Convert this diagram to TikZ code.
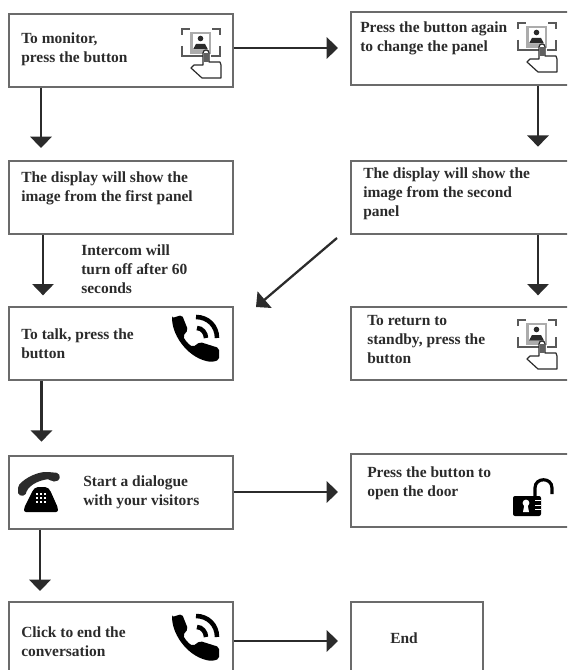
\documentclass[tikz,border=0pt]{standalone}
\usepackage{fontspec}
\setmainfont{Liberation Serif}
\usetikzlibrary{arrows.meta}
\definecolor{ink}{gray}{0.17}
\definecolor{edge}{gray}{0.42}
\tikzset{
  flowbox/.style={draw=edge,line width=1.2pt,fill=white,inner sep=0pt,anchor=north west},
  wide/.style={flowbox,minimum width=168pt,minimum height=54.75pt},
  right side/.style={flowbox,minimum width=170pt,minimum height=54.75pt},
  lbl/.style={text=ink,font=\fontsize{11.6}{14.25}\selectfont\bfseries,align=left,inner sep=0pt,anchor=base west},
  arr/.style={draw=ink,line width=1.7pt,-{Triangle[length=8.5pt,width=16pt]}},
  touch/.pic={
    \draw[gray!70!black,line width=1.1pt] (0,6)--(0,0)--(8,0) (30,0)--(38,0)--(38,6) (0,17)--(0,27)--(22,27) (29,27)--(38,27)--(38,17);
    \fill[gray!65] (8,3) rectangle (29,25);
    \fill[white] (10.5,5) rectangle (27,21);
    \fill[ink] (18.5,9.5) circle (2.8);
    \fill[ink] (11,20.5) -- (14,15) -- (23,15) -- (26,20.5) -- cycle;
    \draw[ink,line width=.9pt,fill=white,line join=round] (21,36) -- (21,24) .. controls (21,20) and (27,20) .. (27,24) -- (27,33) -- (38,33) -- (39,36) -- (39,49) -- (20,49) -- (9,39) -- (12,36) -- cycle;
    \fill[gray!75!black] (21.5,24) rectangle (26.5,33);
  },
  phone/.pic={
    \fill[black,rounded corners=1.5pt] (0,3) -- (10,0) -- (16,15) -- (11,21) .. controls (13,25) and (16,29) .. (21,32) -- (28,27) -- (47,33) -- (47,45) -- (40,47) .. controls (17,44) and (1,22) .. cycle;
    \draw[black,line width=3.4pt] (24,2) .. controls (36,2) and (45,11) .. (45,23);
    \draw[black,line width=3.4pt] (25,13) .. controls (30,13) and (34,18) .. (34,23);
  },
  oldphone/.pic={
    \fill[ink,rounded corners=1.5pt] (0,14) .. controls (8,5) and (20,0) .. (30,0) -- (41,1) -- (42,8) -- (34,10) -- (32,7) .. controls (22,8) and (14,12) .. (9,18) -- (7,24) -- (0,23) -- cycle;
    \fill[black,rounded corners=1.5pt] (15,18) -- (18,15) -- (29,15) -- (32,18) -- (40,36) -- (40,40) -- (6,40) -- (6,36) -- cycle;
    \foreach \kx in {18,22,26}{\foreach \ky in {21,25,29}{\fill[white] (\kx,\ky) rectangle +(2.4,2.4);}}
  },
  padlock/.pic={
    \draw[black,line width=2.4pt] (22,18) -- (22,8) .. controls (22,-3) and (39,-3) .. (39,8) -- (39,14);
    \fill[black,rounded corners=1.5pt] (0,16) rectangle (28,36);
    \fill[white] (13,23) circle (3.4);
    \fill[white] (11.5,24) -- (14.5,24) -- (16,32) -- (10,32) -- cycle;
    \foreach \sy in {20,24.5,29}{\fill[white] (22,\sy) rectangle +(6,1.2);}
  },
}
\begin{document}
\begin{tikzpicture}[x=0.75pt,y=-0.75pt]
\useasboundingbox (0,0) rectangle (567,670);
\clip (0,0) rectangle (567,670);
\fill[white] (0,0) rectangle (567,670);
% boxes
\node[wide] (A) at (8,13) {};
\node[right side] (B) at (350,11) {};
\node[wide] (C) at (8,160) {};
\node[right side] (D) at (350,160) {};
\node[wide] (E) at (8,306) {};
\node[right side] (F) at (350,306) {};
\node[wide] (G) at (8,455) {};
\node[right side] (H) at (350,453) {};
\node[wide] (I) at (8,601) {};
\node[flowbox,minimum width=99pt,minimum height=60pt] (J) at (350,601) {};
% labels (anchored on the last baseline)
\node[lbl] (tA) at (21,63) {To monitor,\\press the button};
\node[lbl] (tB) at (360,52) {Press the button again\\to change the panel};
\node[lbl] (tC) at (21,202) {The display will show the\\image from the first panel};
\node[lbl] (tD) at (363,217) {The display will show the\\image from the second\\panel};
\node[lbl] (tN) at (81,293) {Intercom will\\turn off after 60\\seconds};
\node[lbl] (tE) at (21,358) {To talk, press the\\button};
\node[lbl] (tF) at (367,363) {To return to\\standby, press the\\button};
\node[lbl] (tG) at (83,505) {Start a dialogue\\with your visitors};
\node[lbl] (tH) at (367,496) {Press the button to\\open the door};
\node[lbl] (tI) at (21,656) {Click to end the\\conversation};
\node[lbl] (tJ) at (390,643) {End};
% icons
\pic at (182,29) {touch};
\pic at (518,23) {touch};
\pic at (518,320) {touch};
\pic at (172,315) {phone};
\pic at (172,614) {phone};
\pic at (18,472) {oldphone};
\pic at (513,480) {padlock};
% connectors
\coordinate (xA) at (41,0);
\coordinate (xC) at (43,0);
\coordinate (xE) at (41.5,0);
\coordinate (xG) at (40,0);
\coordinate (xB) at (538,0);
\coordinate (yA) at (0,48);
\coordinate (yG) at (0,492);
\coordinate (yI) at (0,641);
\coordinate (dStart) at (337,238);
\coordinate (dEnd) at (256,307);
\draw[arr,shorten >=9pt] (A.east |- yA) -- (B.west |- yA);
\draw[arr,shorten >=9pt] (G.east |- yG) -- (H.west |- yG);
\draw[arr,shorten >=9pt] (I.east |- yI) -- (J.west |- yI);
\draw[arr,shorten >=9pt] (A.south -| xA) -- (C.north -| xA);
\draw[arr,shorten >=8pt] (C.south -| xC) -- (E.north -| xC);
\draw[arr,shorten >=10pt] (E.south -| xE) -- (G.north -| xE);
\draw[arr,shorten >=7.5pt] (G.south -| xG) -- (I.north -| xG);
\draw[arr,shorten >=10pt] (B.south -| xB) -- (D.north -| xB);
\draw[arr,shorten >=8pt] (D.south -| xB) -- (F.north -| xB);
\draw[arr] (dStart) -- (dEnd);
\end{tikzpicture}
\end{document}
